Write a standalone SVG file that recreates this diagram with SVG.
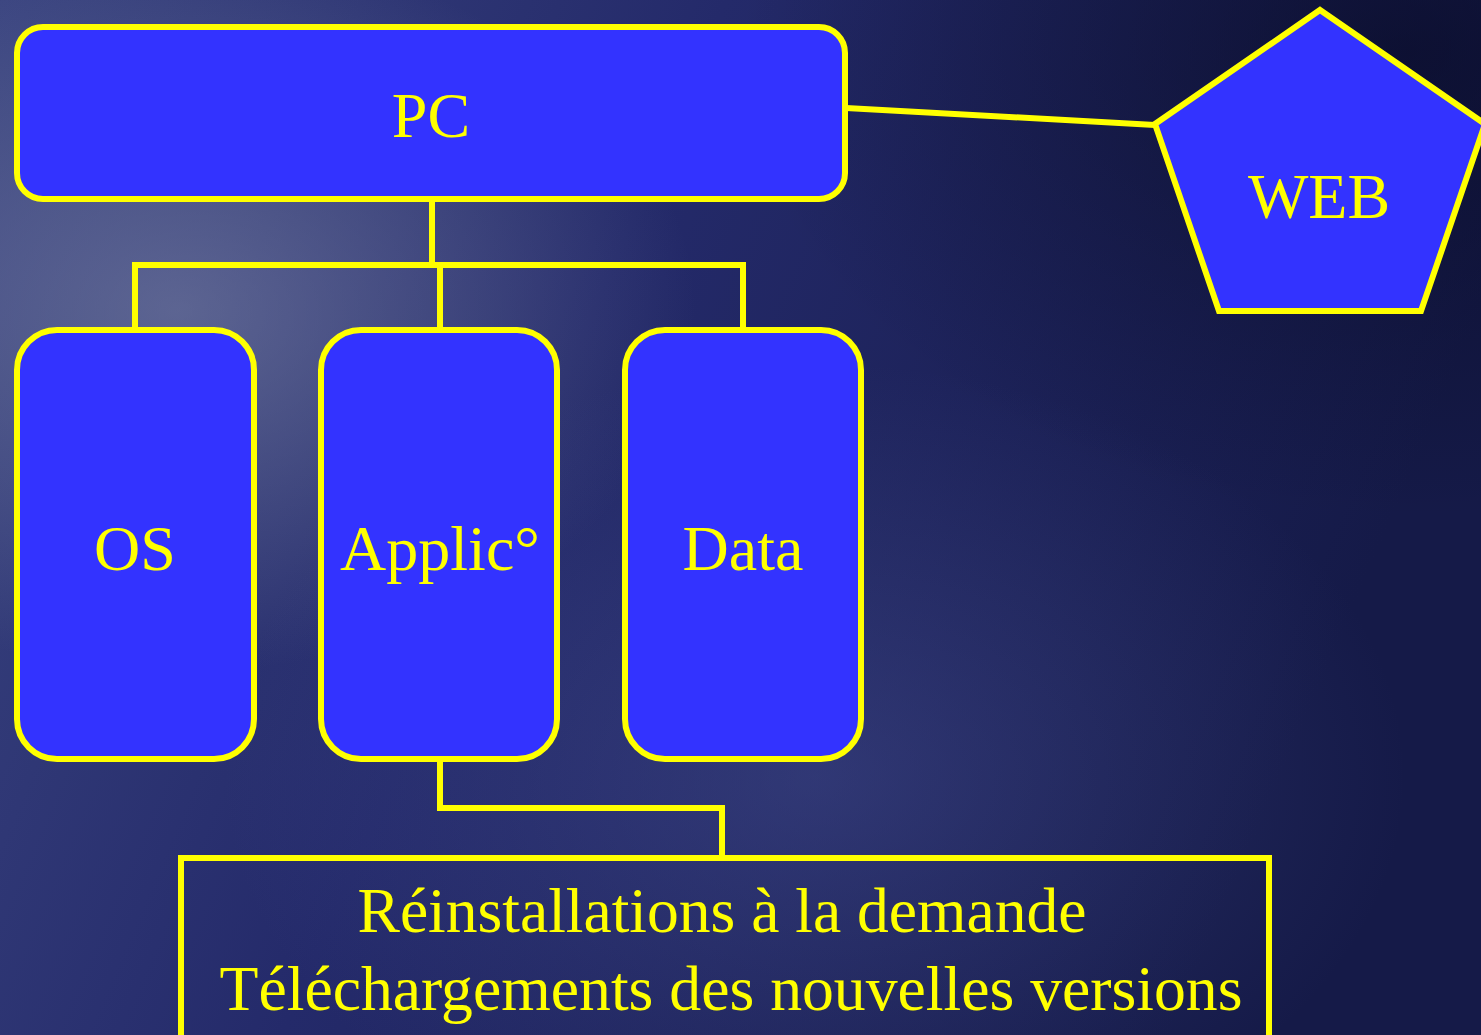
<svg xmlns="http://www.w3.org/2000/svg" width="1481" height="1035" viewBox="0 0 1481 1035">
<style>
.node{fill:#3333FF;stroke:#FFFF00;stroke-width:6}
.frame{fill:none;stroke:#FFFF00;stroke-width:6}
.conn{fill:none;stroke:#FFFF00;stroke-width:6;stroke-linejoin:miter}
.lbl{font-family:"Liberation Serif","Times New Roman",serif;font-size:64px;fill:#FFFF00;text-anchor:middle}
</style>
<defs>
<linearGradient id="bg" x1="0" y1="0" x2="1" y2="0.3">
<stop offset="0" stop-color="#3a4480"/>
<stop offset="0.45" stop-color="#242a6a"/>
<stop offset="1" stop-color="#151a48"/>
</linearGradient>
<radialGradient id="glow1" cx="0.12" cy="0.3" r="0.35">
<stop offset="0" stop-color="#8088a8" stop-opacity="0.55"/>
<stop offset="1" stop-color="#8088a8" stop-opacity="0"/>
</radialGradient>
<radialGradient id="glow2" cx="0.55" cy="0.75" r="0.4">
<stop offset="0" stop-color="#5560a8" stop-opacity="0.35"/>
<stop offset="1" stop-color="#5560a8" stop-opacity="0"/>
</radialGradient>
<radialGradient id="dark" cx="0.95" cy="0.05" r="0.45">
<stop offset="0" stop-color="#060820" stop-opacity="0.6"/>
<stop offset="1" stop-color="#060820" stop-opacity="0"/>
</radialGradient>
</defs>
<rect width="1481" height="1035" fill="url(#bg)"/>
<rect width="1481" height="1035" fill="url(#glow1)"/>
<rect width="1481" height="1035" fill="url(#glow2)"/>
<rect width="1481" height="1035" fill="url(#dark)"/>

<g id="connectors">
<polyline class="conn" points="432,201 432,265"/>
<polyline class="conn" points="135,330 135,265 743,265 743,330"/>
<polyline class="conn" points="440,265 440,330"/>
<polyline class="conn" points="440,760 440,808 722,808 722,858"/>
<line class="conn" x1="846" y1="108" x2="1155" y2="125"/>
</g>

<g id="node-pc">
<rect class="node" x="17" y="27" width="828" height="172" rx="26"/>
<text class="lbl" x="431" y="137">PC</text>
</g>
<g id="node-web">
<polygon class="node" points="1320,10 1485,124 1421,311 1219,311 1155,124"/>
<text class="lbl" x="1319" y="218">WEB</text>
</g>
<g id="node-os">
<rect class="node" x="17" y="330" width="237" height="429" rx="40"/>
<text class="lbl" x="135" y="570">OS</text>
</g>
<g id="node-applic">
<rect class="node" x="321" y="330" width="236" height="429" rx="40"/>
<text class="lbl" x="440" y="570">Applic°</text>
</g>
<g id="node-data">
<rect class="node" x="625" y="330" width="236" height="429" rx="40"/>
<text class="lbl" x="743" y="570">Data</text>
</g>
<g id="node-reinstall">
<rect class="frame" x="181" y="858" width="1088" height="185"/>
<text class="lbl" x="722" y="932" textLength="729" lengthAdjust="spacingAndGlyphs">Réinstallations à la demande</text>
<text class="lbl" x="731" y="1010" textLength="1023" lengthAdjust="spacingAndGlyphs">Téléchargements des nouvelles versions</text>
</g>
</svg>
